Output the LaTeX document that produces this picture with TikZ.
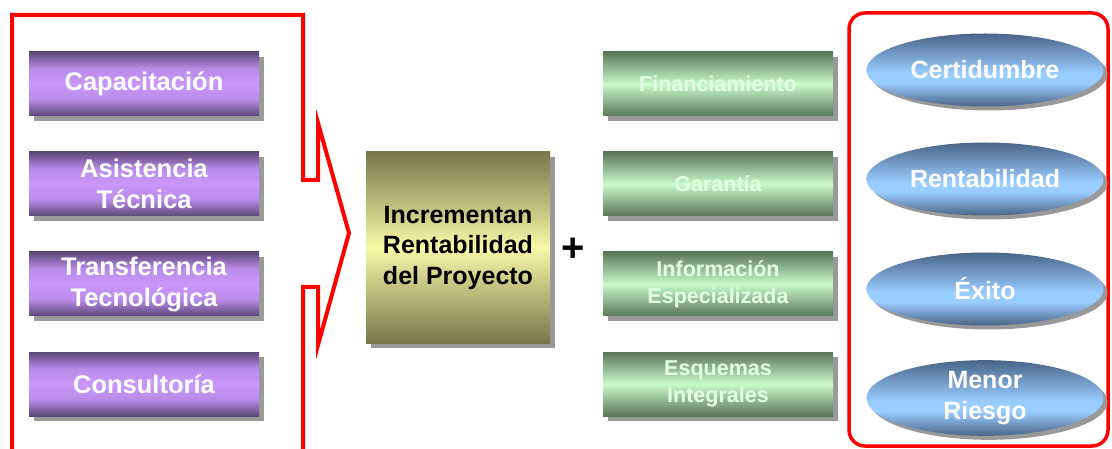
\documentclass[tikz,border=0pt]{standalone}
\usepackage{fontspec}
\setmainfont{Liberation Sans}
\usetikzlibrary{shadows,shapes.geometric}
\definecolor{pdark}{HTML}{5C4878}
\definecolor{plight}{HTML}{CA97FC}
\definecolor{gdark}{HTML}{5A765A}
\definecolor{glight}{HTML}{C8FAC8}
\definecolor{odark}{HTML}{77774A}
\definecolor{olight}{HTML}{F8F8A8}
\definecolor{bdark}{HTML}{4A6488}
\definecolor{blight}{HTML}{99CCFF}
\definecolor{shadowgray}{HTML}{999999}
\definecolor{redline}{HTML}{FF0000}
\pgfdeclareverticalshading{purpleshade}{100bp}{color(0bp)=(pdark); color(25bp)=(pdark); color(38bp)=(plight!85!pdark); color(50bp)=(plight); color(62bp)=(plight!85!pdark); color(75bp)=(pdark); color(100bp)=(pdark)}
\pgfdeclareverticalshading{greenshade}{100bp}{color(0bp)=(gdark); color(25bp)=(gdark); color(50bp)=(glight); color(75bp)=(gdark); color(100bp)=(gdark)}
\pgfdeclareverticalshading{oliveshade}{100bp}{color(0bp)=(odark); color(25bp)=(odark); color(50bp)=(olight); color(75bp)=(odark); color(100bp)=(odark)}
\pgfdeclareverticalshading{blueshade}{100bp}{color(0bp)=(bdark); color(25bp)=(bdark); color(41bp)=(blight); color(48bp)=(blight); color(75bp)=(bdark); color(100bp)=(bdark)}
\tikzset{
  boxshadow/.style={drop shadow={shadow xshift=5pt,shadow yshift=-5pt,fill=shadowgray,opacity=1}},
  ellshadow/.style={drop shadow={shadow xshift=4pt,shadow yshift=-4pt,fill=shadowgray,opacity=1}},
  pbox/.style={rectangle, minimum width=230pt, minimum height=64pt, inner sep=0pt,
    shading=purpleshade, boxshadow,
    text=white, align=center, font=\fontsize{25.5}{31}\selectfont\bfseries},
  gbox/.style={rectangle, minimum width=230pt, minimum height=64pt, inner sep=0pt,
    shading=greenshade, boxshadow,
    text=white!90!green, align=center, font=\fontsize{21.5}{27}\selectfont\bfseries},
  cbox/.style={rectangle, minimum width=184pt, minimum height=191pt, inner sep=0pt,
    shading=oliveshade, boxshadow,
    text=black, align=center, font=\fontsize{25}{30.5}\selectfont\bfseries},
  bell/.style={ellipse, minimum width=237pt, minimum height=73pt, inner sep=0pt,
    shading=blueshade, ellshadow,
    text=white, align=center, font=\fontsize{25}{31}\selectfont\bfseries},
  redframe/.style={draw=redline, line width=4pt, line join=miter},
}
\begin{document}
\begin{tikzpicture}[x=1pt,y=-1pt]
\useasboundingbox (0,0) rectangle (1112,449);
\clip (0,0) rectangle (1112,449);
% left frame with arrow
\draw[redframe] (12,455) -- (12,15) -- (303,15) -- (303,180) -- (318,180) -- (318,123)
  -- (349,233) -- (318,345) -- (318,287) -- (303,287) -- (303,455);
% right frame
\draw[draw=redline, line width=3.5pt, rounded corners=16pt] (849,13) rectangle (1108,446);
% left boxes
\node[pbox] (cap) at (144,84) {Capacitación};
\node[pbox] (asi) at (144,184) {Asistencia\\Técnica};
\node[pbox] (tra) at (144,284) {Transferencia\\Tecnológica};
\node[pbox] (con) at (144,384) {Consultoría};
% center
\node[cbox] (inc) at (458,247.5) {Incrementan\\Rentabilidad\\del Proyecto};
\node[font=\fontsize{40}{40}\selectfont\bfseries, inner sep=0pt] (plus) at (573,250) {+};
% green boxes
\node[gbox] (fin) at (718,84) {Financiamiento};
\node[gbox] (gar) at (718,184) {Garantía};
\node[gbox] (inf) at (718,284) {Información\\Especializada};
\node[gbox] (esq) at (718,384) {Esquemas\\Integrales};
% ellipses
\node[bell] (cer) at (985,70) {Certidumbre};
\node[bell] (ren) at (985,179) {Rentabilidad};
\node[bell] (exi) at (985,289) {Éxito};
\node[bell] (men) at (985,398) {Menor\\Riesgo};
\end{tikzpicture}
\end{document}
